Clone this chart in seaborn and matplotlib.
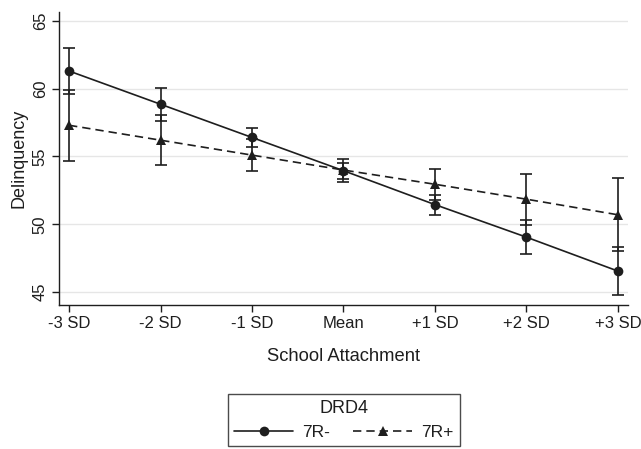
import numpy as np
import pandas as pd
import seaborn as sns
import matplotlib.pyplot as plt
from matplotlib.lines import Line2D

levels = ['-3 SD', '-2 SD', '-1 SD', 'Mean', '+1 SD', '+2 SD', '+3 SD']
groups = ['7R-', '7R+']

# estimated means and half-widths of the error bars
mean_7rm = [61.3, 58.85, 56.4, 53.95, 51.45, 49.05, 46.55]
err_7rm = [1.7, 1.2, 0.72, 0.6, 0.74, 1.26, 1.74]
mean_7rp = [57.3, 56.2, 55.1, 54.0, 52.95, 51.85, 50.7]
err_7rp = [2.6, 1.85, 1.18, 0.85, 1.13, 1.87, 2.7]

ink = '#1e1e1e'

sns.set_style('white')
plt.rcParams['font.family'] = ['Liberation Sans', 'DejaVu Sans']

df = pd.DataFrame({
    'pos': list(range(len(levels))) * 2,
    'level': levels * 2,
    'group': [groups[0]] * len(levels) + [groups[1]] * len(levels),
    'y': mean_7rm + mean_7rp,
    'err': err_7rm + err_7rp,
})

fig = plt.figure(figsize=(6.41, 4.49), dpi=100)
ax = fig.add_axes([59 / 641, 1 - 305 / 449, (628 - 59) / 641, (305 - 12) / 449])

for y in [45, 50, 55, 60, 65]:
    ax.axhline(y, color='#e6e6e6', lw=1.0, zorder=0)

sns.lineplot(data=df, x='pos', y='y', style='group', markers={'7R-': 'o', '7R+': '^'},
             dashes={'7R-': '', '7R+': (5, 3)}, color=ink, linewidth=1.2,
             markersize=7, markeredgewidth=0, legend=False, ax=ax, zorder=3)

for g, sub in df.groupby('group'):
    ax.errorbar(sub['pos'], sub['y'], yerr=sub['err'], fmt='none', ecolor=ink,
                elinewidth=1.2, capsize=4, capthick=1.2, zorder=2)

ax.set_xlim(-0.11, 6.11)
ax.set_ylim(44.05, 65.65)
ax.set_xticks(range(len(levels)))
ax.set_xticklabels(levels)
ax.set_yticks([45, 50, 55, 60, 65])
ax.tick_params(axis='both', direction='out', length=5, width=1, color=ink,
               labelsize=12, labelcolor=ink, bottom=True, left=True, pad=3)
plt.setp(ax.get_yticklabels(), rotation=90, va='center')
ax.set_xlabel('School Attachment', size=13.2, color=ink, labelpad=12)
ax.set_ylabel('Delinquency', size=13, color=ink, labelpad=4)
sns.despine(ax=ax, top=True, right=True)
for s in ['left', 'bottom']:
    ax.spines[s].set_color(ink)
    ax.spines[s].set_linewidth(1.0)

handles = [
    Line2D([], [], color=ink, lw=1.2, marker='o', markersize=7, markeredgewidth=0),
    Line2D([], [], color=ink, lw=1.2, ls=(0, (5, 3)), marker='^', markersize=7, markeredgewidth=0),
]
leg = fig.legend(handles, groups, title='DRD4', loc='lower center', ncol=2,
                 bbox_to_anchor=(344 / 641, -0.012), fontsize=12.5, title_fontsize=13,
                 handlelength=3.4, handletextpad=0.55, columnspacing=1.3,
                 frameon=True, fancybox=False, borderpad=0.35, labelspacing=0.45)
leg.get_frame().set_edgecolor(ink)
leg.get_frame().set_linewidth(1.0)
for t in leg.get_texts():
    t.set_color(ink)
leg.get_title().set_color(ink)

fig.savefig('out.png', dpi=100)
